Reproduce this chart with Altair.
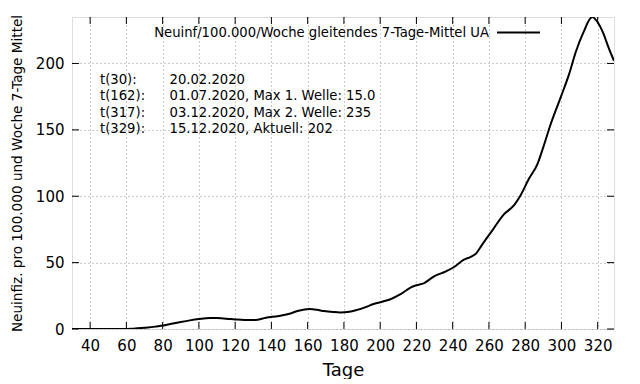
import altair as alt
import pandas as pd

# ---- data ----
days = [30, 40, 50, 60, 63, 66, 70, 75, 80, 85, 90, 95, 100, 106, 110, 115, 120, 125,
        131, 137, 144, 150, 155, 161, 165, 169, 174, 178, 183, 187, 192, 196, 201, 206,
        211, 217, 220, 224, 230, 236, 241, 246, 250, 253, 256, 262, 268, 274, 277, 282,
        287, 290, 294, 300, 304, 308, 312, 317, 320, 323, 326, 329]
values = [0, 0, 0, 0, 0.1, 0.5, 1.0, 1.6, 2.6, 4.0, 5.3, 6.5, 7.5, 8.3, 8.2, 7.8, 7.2, 6.8,
          6.8, 8.5, 9.8, 11.5, 13.8, 15.0, 14.5, 13.5, 12.8, 12.5, 13.0, 14.3, 16.5, 18.6, 20.5, 22.6,
          26.0, 31.4, 33.0, 34.4, 39.9, 43.2, 46.9, 52.0, 54.4, 57.0, 63.0, 74.5, 86.0, 93.5, 99.6, 113.0,
          125.0, 137.0, 154.0, 176.0, 191.0, 209.0, 223.0, 235.0, 231.0, 223.0, 212.0, 202.0]

x_ticks = [40, 60, 80, 100, 120, 140, 160, 180, 200, 220, 240, 260, 280, 300, 320]
y_ticks = [0, 50, 100, 150, 200]

legend_label = "Neuinf/100.000/Woche gleitendes 7-Tage-Mittel UA"
info_left = ["t(30):", "t(162):", "t(317):", "t(329):"]
info_right = ["20.02.2020", "01.07.2020, Max 1. Welle: 15.0",
              "03.12.2020, Max 2. Welle: 235", "15.12.2020, Aktuell: 202"]

x_title = "Tage"
y_title = "Neuinfiz. pro 100.000 und Woche 7-Tage Mittel"

# ---- layout ----
W, H = 542, 312
FONT = "DejaVu Sans"
TICK = 7
TXT = 13.2

df = pd.DataFrame({"day": days, "value": values})
xt = pd.DataFrame({"day": x_ticks})
yt = pd.DataFrame({"value": y_ticks})

xscale = alt.Scale(domain=[30, 329], nice=False, zero=False)
yscale = alt.Scale(domain=[0, 235], nice=False, zero=False)

grid_kw = dict(grid=True, gridDash=[1, 3], gridColor="#9a9a9a", gridWidth=1,
               ticks=False, domain=False, labelFont=FONT, labelFontSize=15,
               labelColor="black", titleFont=FONT, titleColor="black",
               titleFontWeight="normal", labelOverlap=False, labelFlush=False)

x_axis = alt.Axis(values=x_ticks, title=x_title, titleFontSize=18,
                  labelPadding=9, titlePadding=8, **grid_kw)
y_axis = alt.Axis(values=y_ticks, title=y_title, titleFontSize=13.6,
                  labelPadding=8, titlePadding=11, **grid_kw)

X = alt.X("day:Q", scale=xscale, axis=x_axis)
Y = alt.Y("value:Q", scale=yscale, axis=y_axis)

line = alt.Chart(df).mark_line(color="black", strokeWidth=2, interpolate="monotone", clip=True).encode(
    x=X, y=Y)

tick_style = dict(color="black", strokeWidth=1)
xt_bot = alt.Chart(xt).mark_rule(**tick_style).encode(
    x=X, y=alt.value(H), y2=alt.value(H - TICK))
xt_top = alt.Chart(xt).mark_rule(**tick_style).encode(
    x=X, y=alt.value(0), y2=alt.value(TICK))
yt_left = alt.Chart(yt).mark_rule(**tick_style).encode(
    y=Y, x=alt.value(0), x2=alt.value(TICK))
yt_right = alt.Chart(yt).mark_rule(**tick_style).encode(
    y=Y, x=alt.value(W), x2=alt.value(W - TICK))

legend_text = alt.Chart(pd.DataFrame({"l": [legend_label]})).mark_text(
    font=FONT, fontSize=TXT, align="right", baseline="middle", color="black").encode(
    text="l:N", x=alt.value(417), y=alt.value(16))
legend_line = alt.Chart(pd.DataFrame({"l": [legend_label]})).mark_rule(
    color="black", strokeWidth=2).encode(
    x=alt.value(425), x2=alt.value(468), y=alt.value(15.5))

info_layers = []
for i, (a, b) in enumerate(zip(info_left, info_right)):
    d = pd.DataFrame({"a": [a], "b": [b]})
    yy = 63 + i * 16.4
    info_layers.append(alt.Chart(d).mark_text(
        font=FONT, fontSize=TXT, align="left", baseline="middle", color="black").encode(
        text="a:N", x=alt.value(28), y=alt.value(yy)))
    info_layers.append(alt.Chart(d).mark_text(
        font=FONT, fontSize=TXT, align="left", baseline="middle", color="black").encode(
        text="b:N", x=alt.value(97.5), y=alt.value(yy)))

chart = alt.layer(
    line, xt_bot, xt_top, yt_left, yt_right, legend_text, legend_line, *info_layers
).properties(
    width=W, height=H,
    autosize=alt.AutoSizeParams(type="none"),
    padding={"left": 64, "top": 9, "right": 10, "bottom": 50},
).configure_view(
    stroke="black", strokeWidth=1
).configure(background="white")

chart.save("out.html", embed_options={"renderer": "svg", "actions": False})
